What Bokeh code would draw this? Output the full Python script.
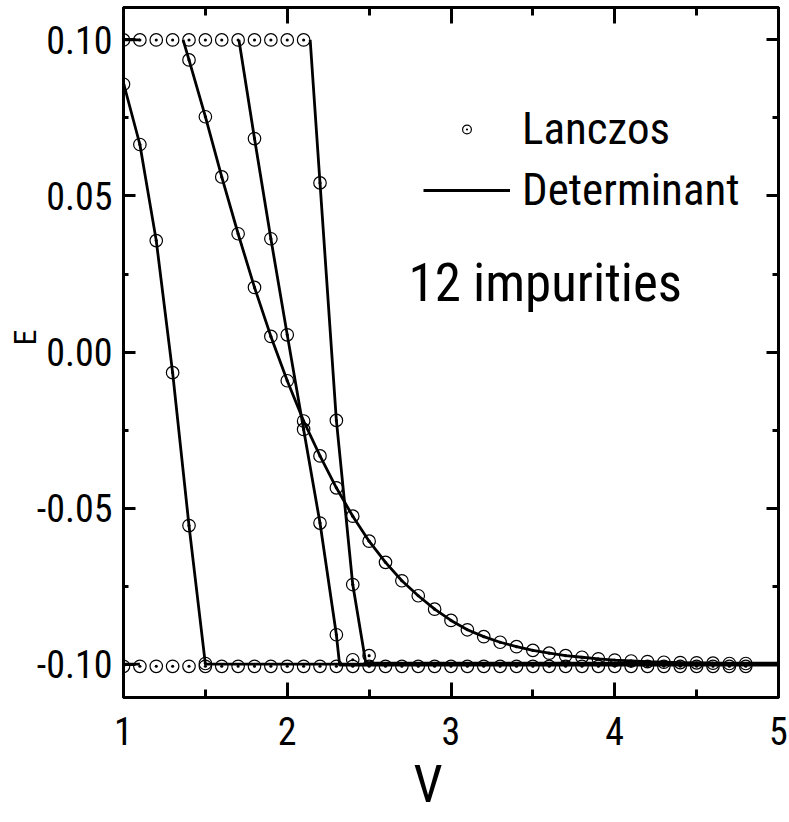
from bokeh.plotting import figure
from bokeh.models import (Range1d, FixedTicker, LinearAxis, PrintfTickFormatter,
                          CustomJSTickFormatter, Label, Legend, LegendItem, Title)
from bokeh.embed import file_html
from bokeh.resources import INLINE

FONT = "Liberation Sans Narrow, Arial Narrow, Roboto Condensed, DejaVu Sans Condensed, Liberation Sans"

# ---------------- data ----------------
x_ticks = [1, 2, 3, 4, 5]
x_minor = [1.5, 2.5, 3.5, 4.5]
y_ticks = [-0.10, -0.05, 0.0, 0.05, 0.10]
y_minor = [-0.075, -0.025, 0.025, 0.075]

# Lanczos points
lz_top_v = [1.0, 1.1, 1.2, 1.3, 1.4, 1.5, 1.6, 1.7, 1.8, 1.9, 2.0, 2.1]
lz_top_e = [0.100, 0.100, 0.100, 0.100, 0.100, 0.100, 0.100, 0.100, 0.100, 0.100, 0.100, 0.100]

lz_bot_v = [1.0, 1.1, 1.2, 1.3, 1.4, 1.5, 1.6, 1.7, 1.8, 1.9, 2.0, 2.1, 2.2, 2.3, 2.4, 2.5,
            2.6, 2.7, 2.8, 2.9, 3.0, 3.1, 3.2, 3.3, 3.4, 3.5, 3.6, 3.7, 3.8, 3.9, 4.0, 4.1,
            4.2, 4.3, 4.4, 4.5, 4.6, 4.7, 4.8]
lz_bot_e = [-0.1007, -0.1007, -0.1007, -0.1007, -0.1007, -0.1007, -0.1007, -0.1007,
            -0.1007, -0.1007, -0.1007, -0.1007, -0.1007, -0.1007, -0.1007, -0.1007,
            -0.1007, -0.1007, -0.1007, -0.1007, -0.1007, -0.1007, -0.1007, -0.1007,
            -0.1007, -0.1007, -0.1007, -0.1007, -0.1007, -0.1007, -0.1007, -0.1007,
            -0.1007, -0.1007, -0.1007, -0.1007, -0.1007, -0.1007, -0.1007]

lz_a_v = [1.0, 1.1, 1.2, 1.3, 1.4, 1.5]
lz_a_e = [0.0858, 0.0665, 0.0357, -0.0066, -0.0556, -0.0998]

lz_b_v = [1.4, 1.5, 1.6, 1.7, 1.8, 1.9, 2.0, 2.1, 2.2, 2.3, 2.4, 2.5, 2.6, 2.7, 2.8, 2.9,
          3.0, 3.1, 3.2, 3.3, 3.4, 3.5, 3.6, 3.7, 3.8, 3.9, 4.0, 4.1, 4.2, 4.3, 4.4, 4.5,
          4.6, 4.7, 4.8]
lz_b_e = [0.0936, 0.0754, 0.0561, 0.0379, 0.0207, 0.0050, -0.0092, -0.0221, -0.0333,
          -0.0435, -0.0526, -0.0606, -0.0674, -0.0733, -0.0781, -0.0824, -0.0860, -0.0890,
          -0.0912, -0.0930, -0.0944, -0.0956, -0.0965, -0.0973, -0.0978, -0.0983, -0.0987,
          -0.0990, -0.0992, -0.0994, -0.0995, -0.0996, -0.0997, -0.0998, -0.0998]

lz_c_v = [1.8, 1.9, 2.0, 2.1, 2.2, 2.3, 2.4]
lz_c_e = [0.0684, 0.0363, 0.0055, -0.0248, -0.0548, -0.0906, -0.0986]

lz_d_v = [2.2, 2.3, 2.4, 2.5]
lz_d_e = [0.0542, -0.0219, -0.0745, -0.0973]

# Determinant curves
det_a_v = [1.0, 1.1, 1.2, 1.3, 1.4, 1.5, 5.0]
det_a_e = [0.0862, 0.0665, 0.0357, -0.0066, -0.0556, -0.1000, -0.1000]

det_b_v = [1.364, 1.4, 1.5, 1.6, 1.7, 1.8, 1.9, 2.0, 2.1, 2.2, 2.3, 2.4, 2.5, 2.6, 2.7,
           2.8, 2.9, 3.0, 3.1, 3.2, 3.3, 3.4, 3.5, 3.6, 3.7, 3.8, 3.9, 4.0, 4.2, 4.4, 4.6,
           4.8, 5.0]
det_b_e = [0.100, 0.0936, 0.0754, 0.0561, 0.0379, 0.0207, 0.0050, -0.0092, -0.0221,
           -0.0333, -0.0435, -0.0526, -0.0606, -0.0674, -0.0733, -0.0781, -0.0824, -0.0860,
           -0.0890, -0.0912, -0.0930, -0.0944, -0.0956, -0.0965, -0.0973, -0.0978, -0.0983,
           -0.0987, -0.0992, -0.0995, -0.0997, -0.0998, -0.0999]

det_c_v = [1.705, 1.8, 1.9, 2.0, 2.1, 2.2, 2.3, 2.32, 5.0]
det_c_e = [0.100, 0.0684, 0.0363, 0.0055, -0.0248, -0.0548, -0.0906, -0.1003, -0.1003]

det_d_v = [2.14, 2.2, 2.3, 2.4, 2.48, 5.0]
det_d_e = [0.100, 0.0542, -0.0219, -0.0745, -0.0997, -0.0997]

det_top_v = [1.0, 1.1]
det_top_e = [0.100, 0.100]
det_bot_v = [1.0, 1.1]
det_bot_e = [-0.100, -0.100]

# ---------------- figure ----------------
p = figure(width=789, height=822,
           x_range=Range1d(1, 5), y_range=Range1d(-0.1107, 0.1104),
           output_backend="svg", toolbar_location=None,
           min_border_left=123, min_border_right=11, min_border_top=7, min_border_bottom=125,
           background_fill_color="white", border_fill_color="white")
p.grid.visible = False
p.outline_line_color = "black"
p.outline_line_width = 3
p.outline_line_alpha = 1.0


def style_axis(ax, ticks, minor, tin, mtin):
    ax.ticker = FixedTicker(ticks=ticks, minor_ticks=minor)
    ax.major_tick_in = tin
    ax.major_tick_out = 0
    ax.minor_tick_in = mtin
    ax.minor_tick_out = 0
    ax.major_tick_line_width = 3
    ax.minor_tick_line_width = 3
    ax.major_tick_line_color = "black"
    ax.minor_tick_line_color = "black"
    ax.axis_line_width = 3
    ax.axis_line_color = "black"
    ax.major_label_text_font = FONT
    ax.major_label_text_font_size = "38px"
    ax.major_label_text_color = "black"


xa = p.xaxis[0]
style_axis(xa, x_ticks, x_minor, 15, 8)
xa.formatter = PrintfTickFormatter(format="%d")
xa.major_label_standoff = 19

ya = p.yaxis[0]
style_axis(ya, y_ticks, y_minor, 12, 5)
ya.formatter = PrintfTickFormatter(format="%.2f")
ya.major_label_standoff = 11

blank = CustomJSTickFormatter(code="return ''")
top_ax = LinearAxis()
style_axis(top_ax, x_ticks, x_minor, 16, 8)
top_ax.formatter = blank
top_ax.major_label_text_font_size = "0px"
top_ax.major_label_standoff = 0
p.add_layout(top_ax, "above")

right_ax = LinearAxis()
style_axis(right_ax, y_ticks, y_minor, 12, 6)
right_ax.formatter = blank
right_ax.major_label_text_font_size = "0px"
right_ax.major_label_standoff = 0
p.add_layout(right_ax, "right")

# ---------------- glyphs ----------------
det = p.multi_line(xs=[det_a_v, det_b_v, det_c_v, det_d_v, det_top_v, det_bot_v],
                   ys=[det_a_e, det_b_e, det_c_e, det_d_e, det_top_e, det_bot_e],
                   line_color="black", line_width=2.8)

lz_v = lz_top_v + lz_bot_v + lz_a_v + lz_b_v + lz_c_v + lz_d_v
lz_e = lz_top_e + lz_bot_e + lz_a_e + lz_b_e + lz_c_e + lz_d_e
lz = p.scatter(lz_v, lz_e, marker="circle_dot", size=12.5, fill_color=None,
               line_color="black", line_width=1.2)

legend = Legend(items=[LegendItem(label="Lanczos", renderers=[lz]),
                       LegendItem(label="Determinant", renderers=[det])],
                location=(300, 481), orientation="vertical",
                glyph_width=87, glyph_height=22, label_standoff=12,
                label_height=52, spacing=8, padding=0, margin=0,
                label_text_font=FONT, label_text_font_size="45px",
                label_text_color="black",
                border_line_color=None, background_fill_alpha=0)
p.add_layout(legend, "center")

p.add_layout(Label(x=285, y=415, x_units="screen", y_units="screen",
                   text="12 impurities", text_font=FONT, text_font_size="53px",
                   text_align="left", text_baseline="middle", text_color="black"))

# axis titles
p.add_layout(Title(text="V", align="left", offset=290, vertical_align="bottom",
                   standoff=8, text_font=FONT, text_font_size="52px",
                   text_font_style="normal", text_color="black"), "below")
p.add_layout(Title(text="E", align="left", offset=352, vertical_align="bottom",
                   standoff=-20, text_font=FONT, text_font_size="32px",
                   text_font_style="normal", text_color="black"), "left")

open("out.html", "w").write(file_html(p, INLINE))
